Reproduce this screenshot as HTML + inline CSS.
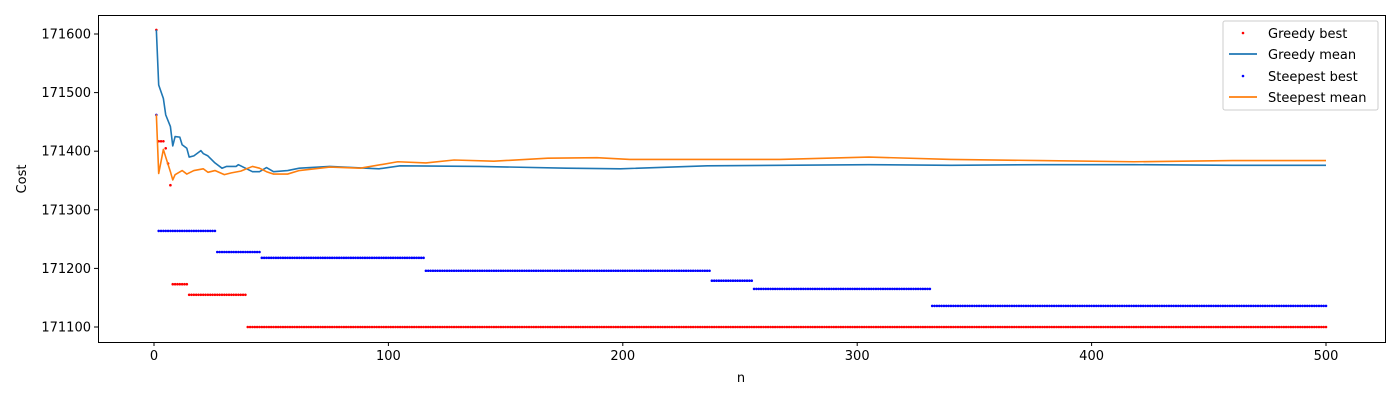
<!DOCTYPE html>
<html><head><meta charset="utf-8"><style>
body{margin:0;background:#fff;font-family:"Liberation Sans","DejaVu Sans",sans-serif}
svg text{font-family:"DejaVu Sans","Liberation Sans",sans-serif;font-size:13px;fill:#000}
</style></head><body>
<svg id="chart" width="1400" height="400" xmlns="http://www.w3.org/2000/svg">
<rect x="0" y="0" width="1400" height="400" fill="#fff"/>
<g id="marks"></g>
<rect x="98.5" y="15.5" width="1287" height="327" fill="none" stroke="#000" stroke-width="1"/>
<g id="axes"></g>
<text x="741" y="382" text-anchor="middle">n</text>
<text x="26" y="179" text-anchor="middle" transform="rotate(-90 26 179)">Cost</text>
<g>
<rect x="1223" y="21" width="155" height="89" rx="2" fill="#fff" fill-opacity="0.8" stroke="#ccc"/>
<g><circle cx="1243" cy="33" r="1.3" fill="red"/><text x="1268" y="38">Greedy best</text></g>
<g><line x1="1229" y1="54" x2="1257" y2="54" stroke="#1f77b4" stroke-width="1.8"/><text x="1268" y="59">Greedy mean</text></g>
<g><circle cx="1243" cy="76" r="1.3" fill="blue"/><text x="1268" y="81">Steepest best</text></g>
<g><line x1="1229" y1="97" x2="1257" y2="97" stroke="#ff7f0e" stroke-width="1.8"/><text x="1268" y="102">Steepest mean</text></g>
</g>
</svg>
<script>
// Greedy best: step segments [fromN, toN, value]
const greedyBestSteps=[[1,1,171607],[2,4,171417],[5,5,171405],[6,6,171379],[7,7,171342],[8,14,171173],[15,39,171155],[40,500,171100]];
// Steepest best
const steepestBestSteps=[[1,1,171462],[2,26,171264],[27,45,171228],[46,115,171218],[116,237,171196],[238,255,171179],[256,331,171165],[332,500,171136]];
// Greedy mean samples
const greedyMeanN=[1,2,4,5,7,8,9,11,12,14,15,17,20,21,23,26,29,31,35,36,39,42,45,48,51,57,62,75,96,105,139,176,199,236,267,305,340,378,418,460,500];
const greedyMeanV=[171607,171513,171490,171462,171442,171409,171425,171424,171411,171405,171390,171392,171401,171396,171392,171380,171371,171374,171374,171377,171371,171365,171365,171372,171365,171367,171371,171374,171370,171375,171374,171371,171370,171375,171376,171377,171376,171377,171377,171376,171376];
// Steepest mean samples
const steepestMeanN=[1,2,4,5,7,8,9,12,14,17,21,23,26,30,33,37,42,45,48,51,57,62,75,88,104,116,128,145,168,189,203,238,267,305,340,378,418,460,500];
const steepestMeanV=[171463,171362,171403,171390,171365,171351,171360,171367,171361,171367,171370,171364,171367,171360,171363,171366,171374,171371,171365,171361,171361,171367,171373,171371,171382,171380,171385,171383,171388,171389,171386,171386,171386,171390,171386,171384,171382,171384,171384];
const xTicks=[0,100,200,300,400,500];
const yTicks=[171100,171200,171300,171400,171500,171600];

const X=n=>154+(n-0)*(1326-154)/500;
const Y=v=>327-(v-171100)*(327-34)/500;
const NS='http://www.w3.org/2000/svg';
const marks=document.getElementById('marks'), axes=document.getElementById('axes');
function mk(tag,attrs,parent){const e=document.createElementNS(NS,tag);for(const k in attrs)e.setAttribute(k,attrs[k]);parent.appendChild(e);return e;}

xTicks.forEach(t=>{
  const g=mk('g',{},axes);
  
  
  mk('line',{x1:X(t),x2:X(t),y1:342,y2:346,stroke:'#000'},g);
  const tx=mk('text',{x:X(t),y:360,'text-anchor':'middle'},g);tx.textContent=t;
});
yTicks.forEach(t=>{
  const g=mk('g',{},axes);
  
  
  mk('line',{x1:94,x2:98,y1:Y(t),y2:Y(t),stroke:'#000'},g);
  const tx=mk('text',{x:91,y:Y(t)+4.5,'text-anchor':'end'},g);tx.textContent=t;
});

function line(ns,vs,color,name){
  const p=mk('polyline',{points:ns.map((n,i)=>X(n)+','+Y(vs[i])).join(' '),fill:'none',stroke:color,'stroke-width':1.6,'stroke-linejoin':'round'},marks);
  
  
}
function dots(steps,color,name){
  const g=mk('g',{fill:color},marks);
  
  
  steps.forEach(s=>{for(let n=s[0];n<=s[1];n++)mk('circle',{cx:X(n),cy:Y(s[2]),r:1.3},g);});
}
dots(greedyBestSteps,'red','greedy-best-points');
line(greedyMeanN,greedyMeanV,'#1f77b4','greedy-mean-line');
dots(steepestBestSteps,'blue','steepest-best-points');
line(steepestMeanN,steepestMeanV,'#ff7f0e','steepest-mean-line');
</script>
</body></html>
